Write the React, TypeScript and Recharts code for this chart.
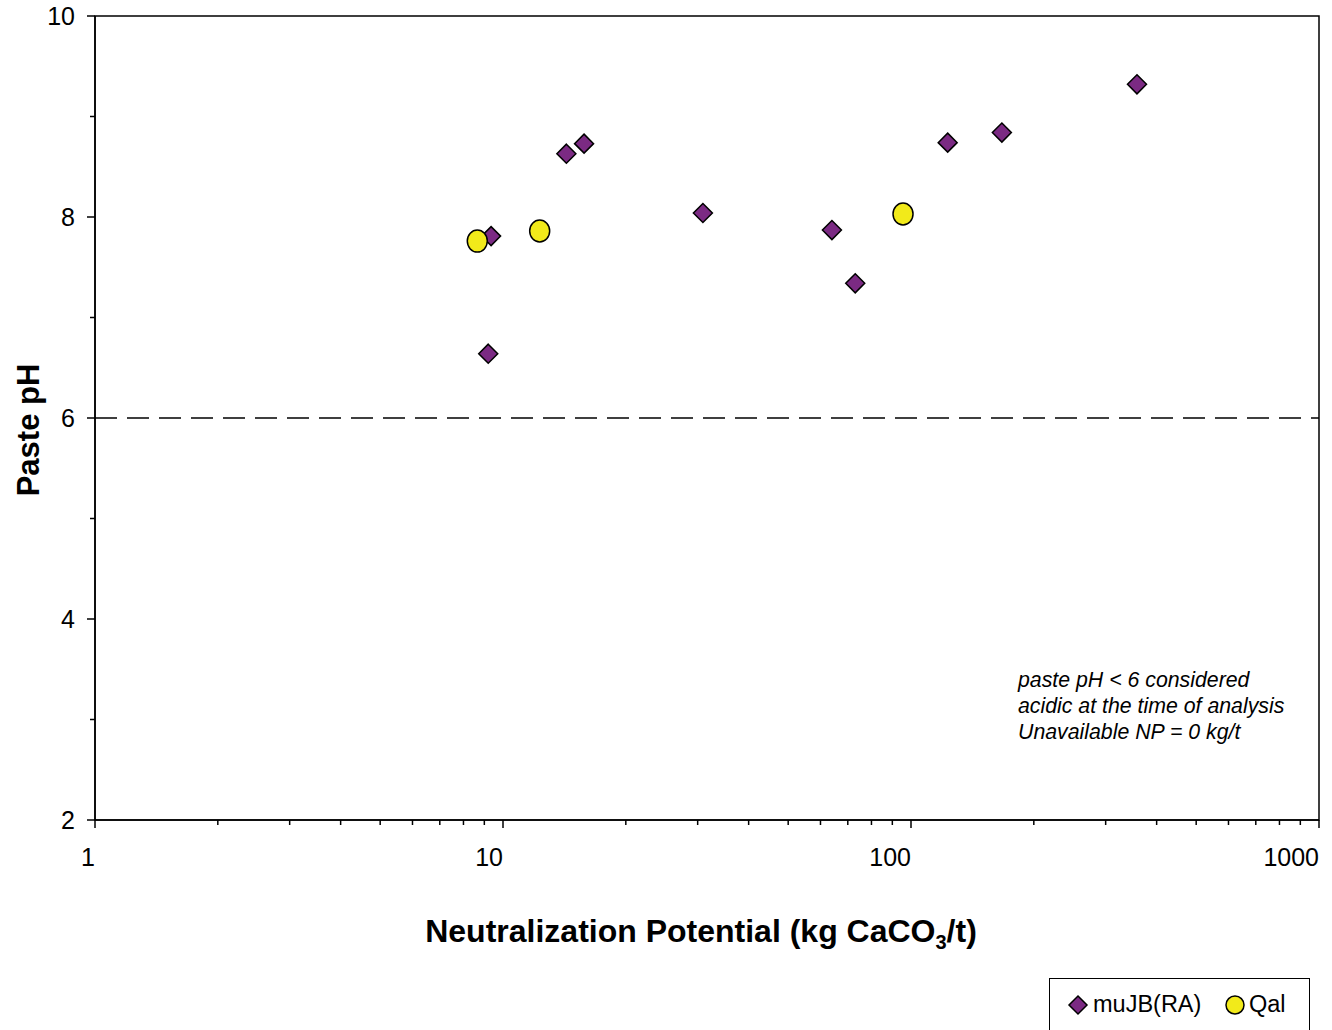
import React from "react";
import {
  ScatterChart,
  Scatter,
  XAxis,
  YAxis,
  ReferenceLine,
  ReferenceArea,
} from "recharts";

// Neutralization potential (kg CaCO3/t) vs paste pH, by unit
const muJbNp = [9.35, 9.2, 14.3, 15.8, 30.9, 64, 73, 123, 167, 358];
const muJbPh = [7.81, 6.64, 8.63, 8.73, 8.04, 7.87, 7.34, 8.74, 8.84, 9.32];
const qalNp = [8.65, 12.3, 95.6];
const qalPh = [7.76, 7.86, 8.03];

const xTicks = [
  1, 2, 3, 4, 5, 6, 7, 8, 9, 10, 20, 30, 40, 50, 60, 70, 80, 90, 100, 200, 300,
  400, 500, 600, 700, 800, 900, 1000,
];
const xLabelled = [1, 10, 100, 1000];
const yTicks = [2, 3, 4, 5, 6, 7, 8, 9, 10];
const yLabelled = [2, 4, 6, 8, 10];

const notes = [
  "paste pH < 6 considered",
  "acidic at the time of analysis",
  "Unavailable NP = 0 kg/t",
];

const FONT = "'Liberation Sans', Arial, sans-serif";
const PURPLE = "#7B2A83";
const YELLOW = "#F2EA1A";

const muJbData = muJbNp.map((np, i) => ({ np, ph: muJbPh[i] }));
const qalData = qalNp.map((np, i) => ({ np, ph: qalPh[i] }));

const Diamond = (props: any) => {
  const { cx, cy } = props;
  const r = 9.5;
  return (
    <polygon
      points={`${cx},${cy - r} ${cx + r},${cy} ${cx},${cy + r} ${cx - r},${cy}`}
      fill={PURPLE}
      stroke="#000"
      strokeWidth={1.5}
    />
  );
};

const Dot = (props: any) => {
  const { cx, cy } = props;
  return (
    <ellipse
      cx={cx}
      cy={cy}
      rx={10}
      ry={11}
      fill={YELLOW}
      stroke="#000"
      strokeWidth={1.5}
    />
  );
};

const XTick = (props: any) => {
  const { x, y, payload } = props;
  const major = xLabelled.includes(payload.value);
  return (
    <g>
      <line x1={x} y1={y} x2={x} y2={y + (major ? 8 : 5)} stroke="#000" strokeWidth={1.5} />
      {major && (
        <text
          x={x}
          y={y + 46}
          textAnchor="end"
          fontFamily={FONT}
          fontSize={25}
          fill="#000"
        >
          {payload.value}
        </text>
      )}
    </g>
  );
};

const YTick = (props: any) => {
  const { x, y, payload } = props;
  const major = yLabelled.includes(payload.value);
  return (
    <g>
      <line x1={x} y1={y} x2={x - (major ? 8 : 5)} y2={y} stroke="#000" strokeWidth={1.5} />
      {major && (
        <text
          x={x - 20}
          y={y + 9}
          textAnchor="end"
          fontFamily={FONT}
          fontSize={25}
          fill="#000"
        >
          {payload.value}
        </text>
      )}
    </g>
  );
};

const XTitle = (props: any) => {
  const { viewBox } = props;
  const cx = viewBox.x + viewBox.width / 2 - 6;
  return (
    <text
      x={cx}
      y={viewBox.y + 122}
      textAnchor="middle"
      fontFamily={FONT}
      fontSize={32}
      fontWeight="bold"
      fill="#000"
    >
      Neutralization Potential (kg CaCO
      <tspan fontSize={20} dy={7}>3</tspan>
      <tspan dy={-7}>/t)</tspan>
    </text>
  );
};

const YTitle = (props: any) => {
  const { viewBox } = props;
  const cy = viewBox.y + viewBox.height / 2 + 12;
  return (
    <text
      x={39}
      y={cy}
      transform={`rotate(-90 39 ${cy})`}
      textAnchor="middle"
      fontFamily={FONT}
      fontSize={31}
      fontWeight="bold"
      fill="#000"
    >
      Paste pH
    </text>
  );
};

export default function App() {
  return (
    <div style={{ position: "absolute", left: 0, top: 0, width: 1332, height: 1030, background: "#fff", overflow: "hidden" }}>
      <ScatterChart
        width={1332}
        height={1030}
        margin={{ top: 16, right: 13, bottom: 0, left: 0 }}
      >
        <XAxis
          type="number"
          dataKey="np"
          scale="log"
          domain={[1, 1000]}
          ticks={xTicks}
          allowDataOverflow
          height={210}
          tickSize={0}
          tickMargin={0}
          tickLine={false}
          tick={<XTick />}
          axisLine={{ stroke: "#000", strokeWidth: 1.5 }}
          label={<XTitle />}
          interval={0}
        />
        <YAxis
          type="number"
          dataKey="ph"
          domain={[2, 10]}
          ticks={yTicks}
          width={95}
          tickSize={0}
          tickMargin={0}
          tickLine={false}
          tick={<YTick />}
          axisLine={{ stroke: "#000", strokeWidth: 1.5 }}
          label={<YTitle />}
          interval={0}
        />
        <ReferenceArea
          x1={1}
          x2={1000}
          y1={2}
          y2={10}
          fill="none"
          stroke="#000"
          strokeWidth={1.5}
        />
        <ReferenceLine
          y={6}
          stroke="#000"
          strokeWidth={1.5}
          strokeDasharray="22 10"
        />
        <Scatter
          name="muJB(RA)"
          data={muJbData}
          shape={<Diamond />}
          isAnimationActive={false}
        />
        <Scatter
          name="Qal"
          data={qalData}
          shape={<Dot />}
          isAnimationActive={false}
        />
      </ScatterChart>

      <div
        style={{
          position: "absolute",
          left: 1018,
          top: 667,
          fontFamily: FONT,
          fontStyle: "italic",
          fontSize: 21.3,
          lineHeight: "26px",
          color: "#000",
          whiteSpace: "nowrap",
        }}
      >
        {notes.map((n) => (
          <div key={n}>{n}</div>
        ))}
      </div>

      <div
        style={{
          position: "absolute",
          left: 1049,
          top: 978,
          width: 261,
          height: 70,
          border: "1.5px solid #000",
          boxSizing: "border-box",
          fontFamily: FONT,
          fontSize: 23.5,
          color: "#000",
        }}
      >
        <svg width={30} height={30} style={{ position: "absolute", left: 13, top: 11 }}>
          <polygon points="15,6 24,15 15,24 6,15" fill={PURPLE} stroke="#000" strokeWidth={1.5} />
        </svg>
        <span style={{ position: "absolute", left: 43, top: 12 }}>muJB(RA)</span>
        <svg width={30} height={30} style={{ position: "absolute", left: 170, top: 11 }}>
          <ellipse cx={15} cy={15} rx={9} ry={9} fill={YELLOW} stroke="#000" strokeWidth={1.5} />
        </svg>
        <span style={{ position: "absolute", left: 199, top: 12 }}>Qal</span>
      </div>
    </div>
  );
}
